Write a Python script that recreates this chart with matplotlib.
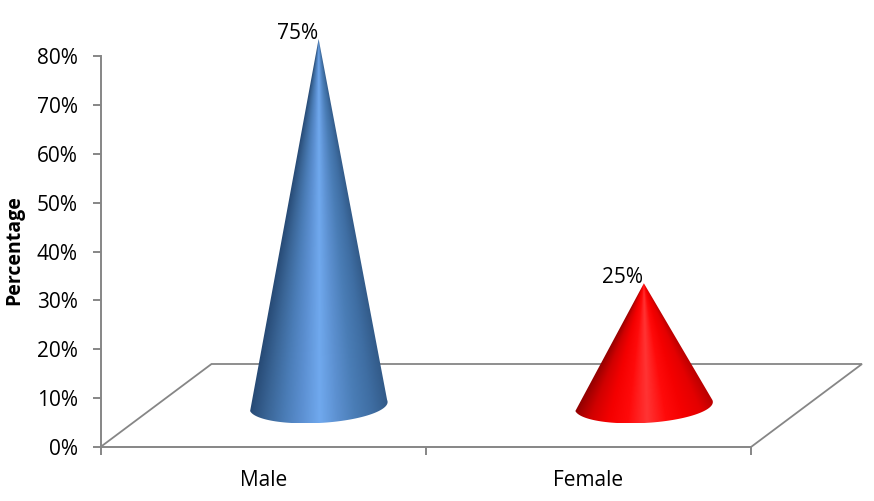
import numpy as np
import matplotlib
matplotlib.use('Agg')
import matplotlib.pyplot as plt
from matplotlib.colors import LinearSegmentedColormap
from matplotlib.patches import Polygon

categories = ['Male', 'Female']
values = [75, 25]
value_labels = ['75%', '25%']
y_ticks = [0, 10, 20, 30, 40, 50, 60, 70, 80]

# shading across each cone, left edge to right edge
blue_shades = ['#274a75', '#3a6596', '#4a7cb6', '#5c90d2', '#70a9ee', '#5c90d0', '#4a7db6', '#3f6ea3', '#325a88']
red_shades = ['#8f0000', '#d00000', '#f40000', '#ff0a0a', '#ff3434', '#ff0a0a', '#f40000', '#e40000', '#b80000']
shades = [blue_shades, red_shades]

GRAY = '#868686'
W, H = 874, 501
plt.rcParams['font.family'] = ['Open Sans', 'DejaVu Sans']

fig = plt.figure(figsize=(W / 100, H / 100), dpi=100)
ax = fig.add_axes([100.5 / W, 1 - 447 / H, 650.5 / W, 391 / H])
ax.set_xlim(0, len(categories))
ax.set_ylim(0, 80)

# size of one data unit in pixels, used for the fake 3d depth
px_x = 650.5 / len(categories)
px_y = 391 / 80
depth_x = 111 / px_x
depth_y = 83 / px_y

# floor of the 3d chart
n = len(categories)
ax.plot([0, depth_x, n + depth_x, n], [0, depth_y, depth_y, 0],
        color=GRAY, lw=1.3, clip_on=False, zorder=1, solid_joinstyle='miter')

# cones: gradient image clipped to the cone outline
t = np.linspace(0, np.pi, 181)
for i, (value, colors) in enumerate(zip(values, shades)):
    cx = i + 0.5 + depth_x / 2
    cy = depth_y / 2
    bx = cx + (68.5 * np.cos(t) + 8 * np.sin(t)) / px_x
    by = cy + (5.5 * np.cos(t) - 17 * np.sin(t)) / px_y
    apex = (cx, cy + value)
    cmap = LinearSegmentedColormap.from_list('cone', colors)

    # shade by the slope from the apex so the bands meet at the tip
    xs = np.linspace(bx.min(), bx.max(), 300)
    ys = np.linspace(by.min(), apex[1], 600)
    gx, gy = np.meshgrid(xs, ys)
    drop = np.maximum(apex[1] - gy, 1e-3)
    slope = (gx - apex[0]) / drop
    left = (bx[-1] - apex[0]) / (apex[1] - by[-1])
    right = (bx[0] - apex[0]) / (apex[1] - by[0])
    pos = np.clip((slope - left) / (right - left), 0, 1)

    im = ax.imshow(pos, cmap=cmap, vmin=0, vmax=1, origin='lower', aspect='auto',
                   extent=(xs[0], xs[-1], ys[0], ys[-1]), interpolation='bilinear', zorder=3)
    outline = Polygon([apex] + list(zip(bx, by)), closed=True, transform=ax.transData)
    im.set_clip_path(outline)
    # the male cone rises above the axis top
    im.set_clip_box(fig.bbox)

    ax.annotate(value_labels[i], xy=apex, xytext=(-0.5, 0), textcoords='offset points',
                ha='right', va='baseline', fontsize=15, color='black',
                annotation_clip=False, zorder=4)

ax.set_xlim(0, n)
ax.set_ylim(0, 80)

# axes
for side in ['top', 'right']:
    ax.spines[side].set_visible(False)
for side in ['left', 'bottom']:
    ax.spines[side].set_color(GRAY)
    ax.spines[side].set_linewidth(1.4)

ax.set_yticks(y_ticks)
ax.set_yticklabels([f'{v}%' for v in y_ticks])
ax.set_xticks(range(n + 1))
ax.set_xticklabels([])
ax.set_xticks([i + 0.5 for i in range(n)], minor=True)
ax.set_xticklabels(categories, minor=True)
ax.tick_params(axis='y', direction='out', length=6, width=1.4, color=GRAY, pad=10.5, labelsize=15)
ax.tick_params(axis='x', which='major', direction='out', length=6, width=1.4, color=GRAY)
ax.tick_params(axis='x', which='minor', length=0, pad=16.5, labelsize=15)

fig.text(14 / W, 1 - 250 / H, 'Percentage', rotation=90, ha='center', va='center',
         fontsize=14, fontweight='bold')

fig.savefig('out.png', dpi=100, facecolor='white')
